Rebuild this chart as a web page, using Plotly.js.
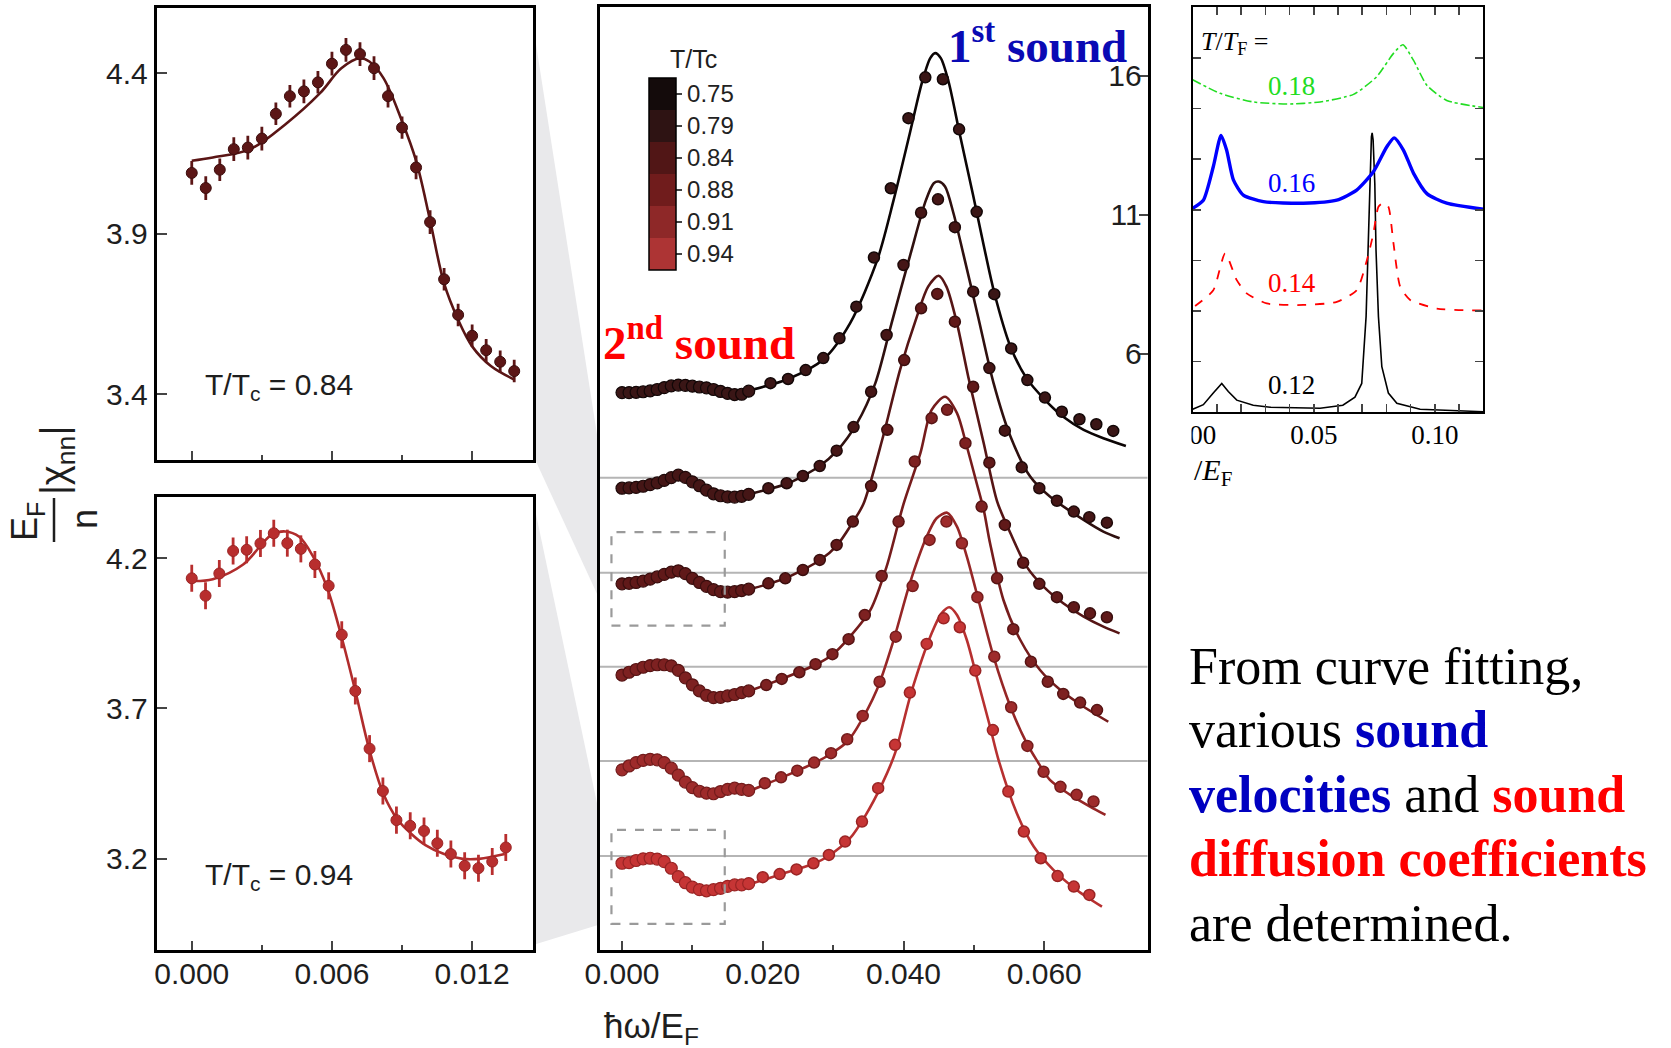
<!DOCTYPE html>
<html><head><meta charset="utf-8">
<script src="https://cdn.plot.ly/plotly-3.0.1.min.js"></script>
<style>html,body{margin:0;padding:0;background:#fff;}#chart{width:1671px;height:1048px;}</style>
</head><body><div id="chart"></div>
<script>
// ---------------- DATA ----------------
const TTc = ['0.75','0.79','0.84','0.88','0.91','0.94'];

// left panels (zoom of 2nd-sound region)
const tlX = [0,0.0006,0.0012,0.0018,0.0024,0.0030,0.0036,0.0042,0.0048,0.0054,0.0060,0.0066,0.0072,0.0078,0.0084,0.0090,0.0096,0.0102,0.0108,0.0114,0.0120,0.0126,0.0132,0.0138];
const tlY = [4.089,4.042,4.099,4.163,4.168,4.196,4.273,4.328,4.343,4.371,4.429,4.472,4.459,4.415,4.328,4.230,4.106,3.936,3.758,3.647,3.582,3.537,3.501,3.472];
const tlErr = [0.037,0.037,0.035,0.037,0.037,0.037,0.035,0.035,0.037,0.035,0.037,0.037,0.037,0.037,0.035,0.035,0.037,0.037,0.035,0.035,0.035,0.035,0.035,0.035];
const tlFitX = [0,0.0009,0.0025,0.0040,0.0055,0.0064,0.0072,0.0076,0.0082,0.0090,0.0096,0.0102,0.0108,0.0114,0.0120,0.0128,0.0138];
const tlFitY = [4.127,4.137,4.163,4.240,4.338,4.415,4.446,4.436,4.385,4.250,4.127,3.941,3.745,3.632,3.549,3.488,3.446];

const blX = [0,0.00059,0.00118,0.00177,0.00235,0.00294,0.00351,0.00409,0.00467,0.00527,0.00586,0.00642,0.0070,0.00761,0.00818,0.00876,0.00935,0.00994,0.01051,0.01109,0.01168,0.01227,0.01286,0.01344];
const blY = [4.133,4.075,4.149,4.224,4.228,4.249,4.283,4.250,4.231,4.179,4.108,3.945,3.758,3.566,3.425,3.328,3.309,3.292,3.251,3.215,3.176,3.168,3.190,3.237];
const blErr = [0.045,0.045,0.045,0.045,0.045,0.045,0.045,0.045,0.045,0.045,0.045,0.045,0.045,0.045,0.045,0.045,0.045,0.045,0.045,0.045,0.045,0.045,0.045,0.045];
const blFitX = [0,0.0009,0.0022,0.0034,0.0040,0.0046,0.0052,0.0058,0.0064,0.0070,0.0076,0.0082,0.0088,0.0094,0.0100,0.0108,0.0116,0.0123,0.0134];
const blFitY = [4.124,4.130,4.179,4.277,4.289,4.271,4.204,4.100,3.941,3.758,3.563,3.416,3.331,3.282,3.245,3.215,3.199,3.199,3.215];

// middle panel: dense low-frequency data (same x for all curves)
const denseX = [0,0.001,0.002,0.003,0.004,0.005,0.006,0.007,0.008,0.009,0.010,0.011,0.012,0.013,0.014,0.015,0.016,0.017,0.018];
const c1Dense = [4.61,4.61,4.62,4.64,4.67,4.72,4.79,4.85,4.88,4.87,4.84,4.81,4.78,4.72,4.65,4.58,4.54,4.55,4.66];
const c2Dense = [1.17,1.18,1.20,1.24,1.30,1.36,1.45,1.55,1.64,1.56,1.40,1.26,1.10,0.97,0.90,0.86,0.85,0.88,0.95];
const c3Dense = [-2.27,-2.25,-2.22,-2.17,-2.10,-2.02,-1.93,-1.85,-1.80,-1.90,-2.07,-2.22,-2.36,-2.48,-2.55,-2.57,-2.55,-2.51,-2.46];
const c4Dense = [-5.55,-5.45,-5.35,-5.27,-5.21,-5.18,-5.18,-5.22,-5.38,-5.65,-5.90,-6.12,-6.28,-6.36,-6.35,-6.30,-6.25,-6.18,-6.12];
const c5Dense = [-8.96,-8.82,-8.70,-8.62,-8.58,-8.60,-8.70,-8.90,-9.15,-9.40,-9.60,-9.73,-9.80,-9.82,-9.74,-9.66,-9.62,-9.66,-9.70];
const c6Dense = [-12.32,-12.30,-12.22,-12.16,-12.14,-12.17,-12.26,-12.50,-12.80,-13.02,-13.18,-13.27,-13.31,-13.27,-13.22,-13.15,-13.10,-13.10,-13.05];

// middle panel: sparse data
const c1SparseX = [0.0211,0.0236,0.0261,0.0286,0.0309,0.0333,0.0358,0.0382,0.0407,0.0431,0.0456,0.0479,0.0504,0.0529,0.0553,0.0576,0.0601,0.0625,0.0650,0.0674,0.0698];
const c1SparseY = [4.95,5.10,5.42,5.85,6.56,7.70,9.47,11.96,14.48,15.95,15.88,14.08,11.11,8.15,6.20,5.06,4.43,3.92,3.65,3.47,3.23];
const c2SparseX = [0.0208,0.0234,0.0257,0.0281,0.0305,0.0329,0.0354,0.0376,0.0400,0.0425,0.0449,0.0473,0.0499,0.0522,0.0544,0.0568,0.0593,0.0618,0.0642,0.0664,0.0689];
const c2SparseY = [1.17,1.35,1.61,1.97,2.52,3.37,4.64,6.68,9.20,11.08,11.56,10.56,8.24,5.49,3.24,1.92,1.17,0.72,0.33,0.13,-0.07];
const c3SparseX = [0.0208,0.0232,0.0257,0.0281,0.0305,0.0328,0.0354,0.0377,0.0401,0.0425,0.0448,0.0473,0.0499,0.0522,0.0544,0.0570,0.0593,0.0618,0.0642,0.0665,0.0689];
const c3SparseY = [-2.25,-2.07,-1.77,-1.41,-0.87,-0.03,1.25,3.27,5.78,7.64,8.16,7.16,4.82,2.09,-0.15,-1.51,-2.27,-2.75,-3.11,-3.33,-3.47];
const c4SparseX = [0.0205,0.0227,0.0252,0.0275,0.0299,0.0322,0.0345,0.0369,0.0393,0.0416,0.0440,0.0462,0.0488,0.0511,0.0533,0.0556,0.0581,0.0605,0.0627,0.0651,0.0675];
const c4SparseY = [-5.91,-5.69,-5.45,-5.16,-4.80,-4.26,-3.39,-1.99,-0.03,2.13,3.69,3.99,2.79,0.51,-2.07,-3.90,-5.07,-5.79,-6.23,-6.54,-6.81];
const c5SparseX = [0.0203,0.0226,0.0249,0.0273,0.0297,0.0320,0.0342,0.0366,0.0389,0.0413,0.0437,0.0461,0.0483,0.0505,0.0529,0.0553,0.0576,0.0599,0.0623,0.0646,0.0670];
const c5SparseY = [-9.44,-9.23,-8.99,-8.70,-8.36,-7.86,-7.02,-5.79,-4.17,-2.35,-0.69,-0.03,-0.81,-2.75,-4.89,-6.71,-8.10,-9.03,-9.57,-9.86,-10.10];
const c6SparseX = [0.0200,0.0224,0.0248,0.0272,0.0294,0.0317,0.0341,0.0364,0.0388,0.0409,0.0433,0.0457,0.0480,0.0502,0.0527,0.0549,0.0571,0.0595,0.0619,0.0642,0.0664];
const c6SparseY = [-12.82,-12.71,-12.54,-12.32,-12.02,-11.54,-10.82,-9.62,-8.06,-6.18,-4.43,-3.51,-3.83,-5.39,-7.53,-9.74,-11.18,-12.14,-12.78,-13.16,-13.46];

// middle panel: fitted curves
const c1FitX = [0.0186,0.0236,0.0286,0.0324,0.0363,0.0386,0.0409,0.0426,0.0438,0.0445,0.0453,0.0464,0.0480,0.0499,0.0514,0.0529,0.0552,0.0575,0.0601,0.0627,0.0656,0.0684,0.0716];
const c1FitY = [4.72,5.10,5.80,7.10,9.40,11.54,13.94,15.74,16.64,16.82,16.64,15.80,13.90,11.70,9.90,8.20,6.26,5.12,4.35,3.74,3.27,2.97,2.69];
const c2FitX = [0.0186,0.0236,0.0281,0.0305,0.0334,0.0360,0.0383,0.0410,0.0432,0.0443,0.0450,0.0459,0.0471,0.0485,0.0506,0.0528,0.0552,0.0580,0.0608,0.0656,0.0684,0.0707];
const c2FitY = [0.99,1.35,1.97,2.50,3.51,4.95,7.10,9.60,11.54,12.14,12.20,12.02,11.06,9.60,7.34,4.95,3.03,1.59,0.87,0.03,-0.39,-0.63];
const c3FitX = [0.0185,0.0232,0.0281,0.0305,0.0328,0.0343,0.0371,0.0395,0.0419,0.0435,0.0450,0.0461,0.0476,0.0492,0.0514,0.0533,0.0552,0.0575,0.0599,0.0627,0.0656,0.0684,0.0707];
const c3FitY = [-2.44,-2.07,-1.42,-0.90,-0.05,0.60,3.03,5.42,7.34,8.42,8.81,8.42,7.10,5.18,2.79,0.70,-0.45,-1.65,-2.37,-2.97,-3.45,-3.81,-4.05];
const c4FitX = [0.0182,0.0227,0.0275,0.0299,0.0324,0.0353,0.0376,0.0400,0.0424,0.0440,0.0459,0.0476,0.0490,0.0504,0.0514,0.0523,0.0542,0.0566,0.0594,0.0623,0.0656,0.0691];
const c4FitY = [-6.11,-5.69,-5.18,-4.82,-4.17,-3.21,-1.65,0.60,2.43,3.99,4.46,3.87,2.67,1.35,0.39,-0.81,-2.85,-4.29,-5.37,-6.09,-6.69,-7.23];
const c5FitX = [0.0182,0.0226,0.0273,0.0297,0.0320,0.0334,0.0362,0.0386,0.0409,0.0433,0.0447,0.0462,0.0476,0.0490,0.0509,0.0528,0.0552,0.0575,0.0589,0.0608,0.0637,0.0665,0.0687];
const c5FitY = [-9.71,-9.25,-8.72,-8.38,-7.95,-7.45,-6.09,-4.29,-2.25,-0.57,0.09,0.29,-0.21,-1.29,-3.09,-4.89,-6.69,-8.00,-8.60,-9.32,-9.86,-10.28,-10.58];
const c6FitX = [0.0178,0.0224,0.0272,0.0294,0.0324,0.0345,0.0369,0.0388,0.0411,0.0440,0.0454,0.0465,0.0476,0.0490,0.0504,0.0523,0.0535,0.0561,0.0585,0.0613,0.0646,0.0682];
const c6FitY = [-13.10,-12.73,-12.34,-12.05,-11.42,-10.64,-9.50,-8.36,-6.18,-4.05,-3.33,-3.11,-3.39,-4.29,-5.61,-7.41,-8.60,-10.52,-11.72,-12.56,-13.28,-13.88];

// offset baselines (gray lines) and zoom windows (dashed boxes) in middle-panel units
const baselines = [1.55,-1.87,-5.25,-8.64,-12.06];
const zoomWinX = [-0.00150,0.01460];
const zoomWinTopY = [-3.77,-0.41];
const zoomWinBotY = [-14.50,-11.12];

// inset (theory curves)
const insetLabels = ['0.12','0.14','0.16','0.18'];
const i12X = [0,0.0044,0.0085,0.0120,0.0147,0.0182,0.0250,0.0320,0.0526,0.0620,0.0670,0.0698,0.0716,0.0726,0.0733,0.0738,0.0741,0.0745,0.0752,0.0757,0.0767,0.0781,0.0808,0.0843,0.0939,0.1200];
const i12Y = [0.06,0.15,0.38,0.57,0.41,0.24,0.14,0.10,0.08,0.14,0.30,0.57,1.89,3.53,4.85,5.44,5.52,5.38,4.52,3.20,1.89,0.90,0.38,0.18,0.06,0.01];
const i14X = [0.001,0.0085,0.0134,0.0182,0.0223,0.0306,0.0457,0.0595,0.0677,0.0719,0.0746,0.0767,0.0788,0.0808,0.0829,0.0857,0.0898,0.1008,0.1200];
const i14Y = [2.10,2.41,3.14,2.61,2.35,2.15,2.12,2.18,2.41,3.00,3.53,4.06,4.14,4.06,3.34,2.48,2.22,2.05,2.01];
const i16X = [0,0.0044,0.0085,0.0117,0.0140,0.0168,0.0209,0.0292,0.0457,0.0595,0.0677,0.0746,0.0801,0.0832,0.0870,0.0912,0.0967,0.1049,0.1200];
const i16Y = [4.03,4.19,4.85,5.47,5.18,4.59,4.29,4.16,4.13,4.19,4.39,4.75,5.24,5.42,5.18,4.72,4.32,4.13,4.01];
const i18X = [0,0.0113,0.0251,0.0388,0.0526,0.0664,0.0760,0.0829,0.0868,0.0912,0.0967,0.1049,0.1200];
const i18Y = [6.57,6.30,6.13,6.09,6.13,6.28,6.63,7.09,7.26,6.95,6.46,6.16,6.02];

// ---------------- STYLE / LAYOUT ----------------
const W = 1671, H = 1048;
const px = v => v / W;
const py = v => 1 - v / H;
const SANS = 'Liberation Sans, Arial, sans-serif';
const SERIF = 'Liberation Serif, Times New Roman, serif';

const lineCols = ['#0c0505','#2f100f','#561515','#761c1c','#962626','#b73030'];
const markCols = ['#3a1616','#451616','#601919','#7d2121','#9e2b2b','#c63535'];
const edgeCols = ['#120707','#1f0a0a','#3a0e0e','#571414','#741c1c','#992424'];
const barCols  = ['#140b0b','#2e1313','#511616','#701c1c','#8e2828','#ad3434'];

const dense = [c1Dense,c2Dense,c3Dense,c4Dense,c5Dense,c6Dense];
const spX = [c1SparseX,c2SparseX,c3SparseX,c4SparseX,c5SparseX,c6SparseX];
const spY = [c1SparseY,c2SparseY,c3SparseY,c4SparseY,c5SparseY,c6SparseY];
const ftX = [c1FitX,c2FitX,c3FitX,c4FitX,c5FitX,c6FitX];
const ftY = [c1FitY,c2FitY,c3FitY,c4FitY,c5FitY,c6FitY];

const traces = [];
// left panels
const cTop = '#5c1616', cBot = '#b82e2e';
traces.push({x: tlFitX, y: tlFitY, xaxis:'x', yaxis:'y', mode:'lines', line:{color:'#5a1515', width:2.6, shape:'spline', smoothing:1}, hoverinfo:'skip'});
traces.push({x: tlX, y: tlY, xaxis:'x', yaxis:'y', mode:'markers',
  marker:{size:11, color:cTop, line:{color:'#3d0e0e', width:1}},
  error_y:{type:'data', array:tlErr, color:cTop, thickness:2.8, width:0}});
traces.push({x: blFitX, y: blFitY, xaxis:'x2', yaxis:'y2', mode:'lines', line:{color:'#b02c2c', width:2.6, shape:'spline', smoothing:1}, hoverinfo:'skip'});
traces.push({x: blX, y: blY, xaxis:'x2', yaxis:'y2', mode:'markers',
  marker:{size:11, color:cBot, line:{color:'#9a2424', width:1}},
  error_y:{type:'data', array:blErr, color:cBot, thickness:2.8, width:0}});

// middle panel
for (let i = 0; i < 6; i++) {
  traces.push({x: ftX[i], y: ftY[i], xaxis:'x3', yaxis:'y3', mode:'lines',
    line:{color: lineCols[i], width:2.6, shape:'spline', smoothing:0.8}, hoverinfo:'skip'});
  traces.push({x: denseX, y: dense[i], xaxis:'x3', yaxis:'y3', mode:'markers',
    marker:{size:12, color: markCols[i], line:{color: edgeCols[i], width:1.2}}});
  traces.push({x: spX[i], y: spY[i], xaxis:'x3', yaxis:'y3', mode:'markers',
    marker:{size:11, color: markCols[i], line:{color: edgeCols[i], width:1.5}}});
}
// colour key (discrete) as colorbar of a hidden point
const cs = [];
for (let k = 0; k < 6; k++) {
  const c = barCols[5 - k];
  cs.push([k/6, c]); cs.push([(k+1)/6, c]);
}
traces.push({x:[-1], y:[0], xaxis:'x3', yaxis:'y3', mode:'markers', hoverinfo:'skip',
  marker:{size:1, color:[0], cmin:0, cmax:6, colorscale: cs, showscale:true,
    colorbar:{x:px(649), xanchor:'left', y:py(78), yanchor:'top', len:192, lenmode:'pixels',
      thickness:27, thicknessmode:'pixels', outlinewidth:1.5, outlinecolor:'#000',
      xpad:0, ypad:0, tickvals:[0.5,1.5,2.5,3.5,4.5,5.5], ticktext: TTc.slice().reverse(),
      ticks:'outside', ticklen:6, tickwidth:1.2, tickcolor:'#444',
      tickfont:{family:SANS, size:24, color:'#222'}, title:{text:''}}}});

// inset
traces.push({x:i12X, y:i12Y, xaxis:'x4', yaxis:'y4', mode:'lines', line:{color:'#000', width:1.6}});
traces.push({x:i14X, y:i14Y, xaxis:'x4', yaxis:'y4', mode:'lines', line:{color:'#ff0000', width:1.8, dash:'dash', shape:'spline', smoothing:0.6}});
traces.push({x:i16X, y:i16Y, xaxis:'x4', yaxis:'y4', mode:'lines', line:{color:'#0000ff', width:3.4, shape:'spline', smoothing:0.6}});
traces.push({x:i18X, y:i18Y, xaxis:'x4', yaxis:'y4', mode:'lines', line:{color:'#22dd22', width:1.6, dash:'dashdot', shape:'spline', smoothing:0.6}});

const tickF = {family:SANS, size:30, color:'#1e1e1e'};
const leftX = {range: zoomWinX, tickvals:[0,0.006,0.012], tickformat:'.3f', ticks:'inside', ticklen:9, tickwidth:2,
  minor:{tickvals:[0.003,0.009], ticks:'inside', ticklen:5, tickwidth:2}, showline:true, linewidth:3, linecolor:'#000',
  mirror:true, showgrid:false, zeroline:false, tickfont:tickF, ticklabelstandoff:-5, fixedrange:true};
const leftY = {ticks:'inside', ticklen:10, tickwidth:2, showline:true, linewidth:3, linecolor:'#000', mirror:true,
  showgrid:false, zeroline:false, tickfont:tickF, tickformat:'.1f', fixedrange:true};

const layout = {
  width:W, height:H, margin:{l:0,r:0,t:0,b:0}, paper_bgcolor:'#fff', plot_bgcolor:'#fff', showlegend:false,
  xaxis: Object.assign({}, leftX, {domain:[px(156.7), px(532.9)], anchor:'y', showticklabels:false}),
  yaxis: Object.assign({}, leftY, {domain:[py(460.4), py(7.5)], anchor:'x', range:[3.194,4.604], tickvals:[3.4,3.9,4.4]}),
  xaxis2: Object.assign({}, leftX, {domain:[px(156.7), px(532.9)], anchor:'y2'}),
  yaxis2: Object.assign({}, leftY, {domain:[py(949.6), py(496.6)], anchor:'x2', range:[2.897,4.405], tickvals:[3.2,3.7,4.2]}),
  xaxis3: {domain:[px(599.7), px(1147.7)], anchor:'y3', range:[-0.00317,0.0747], tickvals:[0,0.02,0.04,0.06], tickformat:'.3f',
    ticks:'inside', ticklen:9, tickwidth:2, minor:{tickvals:[0.01,0.03,0.05,0.07], ticks:'inside', ticklen:5, tickwidth:2},
    showline:true, linewidth:3, linecolor:'#000', mirror:true, showgrid:false, zeroline:false, tickfont:tickF, ticklabelstandoff:-5},
  yaxis3: {domain:[py(950), py(6.7)], anchor:'x3', side:'right', range:[-15.44,18.49], tickvals:[6,11,16],
    ticks:'inside', ticklen:9, tickwidth:2, ticklabelposition:'inside', showline:true, linewidth:3, linecolor:'#000',
    mirror:true, showgrid:false, zeroline:false, tickfont:tickF},
  xaxis4: {domain:[px(1192.7), px(1483.3)], anchor:'y4', range:[0,0.12], tickvals:[0,0.05,0.10], tickformat:'.2f',
    ticks:'inside', ticklen:8, tickwidth:1.5, minor:{dtick:0.01, tick0:0, ticks:'inside', ticklen:8, tickwidth:1.5},
    showline:true, linewidth:2, linecolor:'#000', mirror:'ticks', showgrid:false, zeroline:false, ticklabelstandoff:-3,
    tickfont:{family:SERIF, size:27, color:'#000'}},
  yaxis4: {domain:[py(412.3), py(7.3)], anchor:'x4', side:'right', range:[0,8], dtick:1, showticklabels:false,
    ticks:'inside', ticklen:8, tickwidth:1.5, showline:true, linewidth:2, linecolor:'#000', mirror:'ticks',
    showgrid:false, zeroline:false},
  shapes: [], annotations: []
};

// zoom wedges (light gray), clipped at middle-panel edge
function pathPx(pts){ return 'M ' + pts.map(p => px(p[0]).toFixed(5)+','+py(p[1]).toFixed(5)).join(' L ') + ' Z'; }
layout.shapes.push({type:'path', xref:'paper', yref:'paper', layer:'below', line:{width:0}, fillcolor:'#e9e9eb',
  path: pathPx([[533,25],[598,441],[598,596],[533,455]])});
layout.shapes.push({type:'path', xref:'paper', yref:'paper', layer:'below', line:{width:0}, fillcolor:'#e9e9eb',
  path: pathPx([[533,500],[598,808],[598,925],[533,945]])});
// baselines
baselines.forEach(b => layout.shapes.push({type:'line', xref:'x3', yref:'y3', x0:-0.00317, x1:0.0747, y0:b, y1:b,
  layer:'below', line:{color:'#b5b5b5', width:2}}));
// dashed zoom windows
[zoomWinTopY, zoomWinBotY].forEach(r => layout.shapes.push({type:'rect', xref:'x3', yref:'y3',
  x0:zoomWinX[0], x1:zoomWinX[1], y0:r[0], y1:r[1], layer:'above', line:{color:'#9a9a9a', width:2.2, dash:'dash'}}));
// crop edge of the inset
layout.shapes.push({type:'rect', xref:'paper', yref:'paper', x0:px(1153), x1:px(1191.5), y0:py(470), y1:py(414),
  layer:'above', line:{width:0}, fillcolor:'#fff'});
// fraction bar of the y title
layout.shapes.push({type:'line', xref:'paper', yref:'paper', x0:px(54), x1:px(54), y0:py(498), y1:py(542), line:{color:'#1e1e1e', width:2.5}});

const A = layout.annotations;
function ann(o){ A.push(Object.assign({xref:'paper', yref:'paper', showarrow:false}, o)); }
// panel annotations
ann({text:'T/T<sub>c</sub> = 0.84', x:px(203), y:py(386), xanchor:'left', yanchor:'middle', font:{family:SANS, size:30, color:'#1e1e1e'}});
ann({text:'T/T<sub>c</sub> = 0.94', x:px(203), y:py(876), xanchor:'left', yanchor:'middle', font:{family:SANS, size:30, color:'#1e1e1e'}});
ann({text:'<b>1<sup>st</sup> sound</b>', x:px(946), y:py(74), xanchor:'left', yanchor:'bottom', font:{family:SERIF, size:47, color:'#0a0ab4'}});
ann({text:'<b>2<sup>nd</sup> sound</b>', x:px(601), y:py(371), xanchor:'left', yanchor:'bottom', font:{family:SERIF, size:47, color:'#ff0000'}});
ann({text:'T/Tc', x:px(693), y:py(59), xanchor:'center', yanchor:'middle', font:{family:SANS, size:25, color:'#1e1e1e'}});
// axis titles
ann({text:'ħω/E<sub>F</sub>', x:px(602), y:py(1028), xanchor:'left', yanchor:'middle', font:{family:SANS, size:35, color:'#1e1e1e'}});
ann({text:'|χ<sub>nn</sub>|', x:px(57), y:py(461), xanchor:'center', yanchor:'middle', textangle:-90, font:{family:SANS, size:38, color:'#1e1e1e'}});
ann({text:'E<sub>F</sub>', x:px(27), y:py(521), xanchor:'center', yanchor:'middle', textangle:-90, font:{family:SANS, size:36, color:'#1e1e1e'}});
ann({text:'n', x:px(84), y:py(519), xanchor:'center', yanchor:'middle', textangle:-90, font:{family:SANS, size:36, color:'#1e1e1e'}});
// inset labels
const insCols = ['#000000','#ff0000','#0000ff','#22dd22'];
const insLabY = [0.54,2.55,4.52,6.45];
insetLabels.forEach((t,k) => A.push({text:t, xref:'x4', yref:'y4', x:0.0408, y:insLabY[k], showarrow:false,
  xanchor:'center', yanchor:'middle', font:{family:SERIF, size:27, color:insCols[k]}}));
A.push({text:'<i>T</i>/<i>T</i><sub>F</sub> =', xref:'x4', yref:'y4', x:0.0025, y:7.3, showarrow:false, xanchor:'left', yanchor:'middle',
  font:{family:SERIF, size:26, color:'#000'}});
ann({text:'/<i>E</i><sub>F</sub>', x:px(1192), y:py(472), xanchor:'left', yanchor:'middle', font:{family:SERIF, size:30, color:'#000'}});
// paragraph
const para = [
  'From curve fitting,',
  'various <b><span style="color:#0000c0">sound</span></b>',
  '<b><span style="color:#0000c0">velocities</span></b> and <b><span style="color:#ff0000">sound</span></b>',
  '<b><span style="color:#ff0000">diffusion coefficients</span></b>',
  'are determined.'
];
const paraBase = [685,748,813,877,942];
para.forEach((t,k) => ann({text:t, x:px(1187), y:py(paraBase[k]+12), xanchor:'left', yanchor:'bottom',
  font:{family:SERIF, size:52, color:'#000'}}));

Plotly.newPlot('chart', traces, layout, {staticPlot:true});
</script></body></html>
